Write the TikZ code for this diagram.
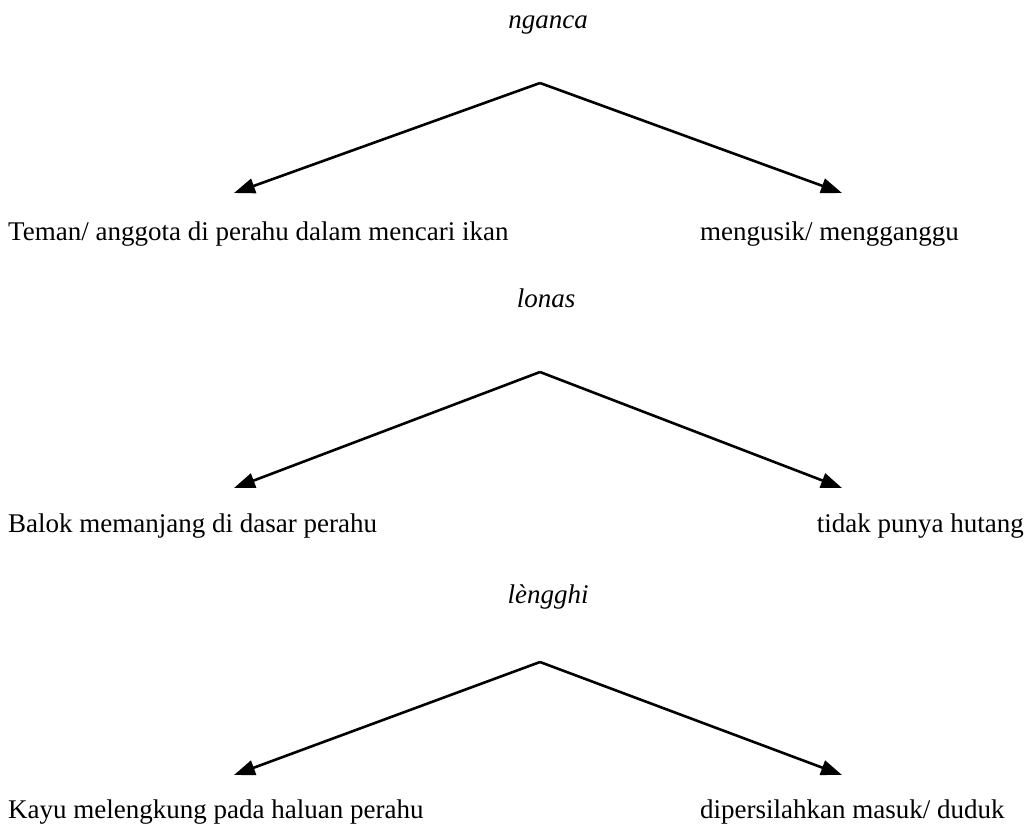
\documentclass[tikz,border=0pt]{standalone}
\usepackage{fontspec}
\setmainfont{Liberation Serif}
\usetikzlibrary{arrows.meta}
\begin{document}
\begin{tikzpicture}[x=1pt,y=-1pt,
  txt/.style={inner sep=0pt,font=\fontsize{27}{32}\selectfont},
  lbl/.style={inner sep=0pt,anchor=base,font=\fontsize{27}{32}\selectfont\itshape},
  conn/.style={line width=2.6pt,-{Triangle[length=21pt,width=15pt]}}]
\useasboundingbox (0,0) rectangle (1029,831);
% row 1
\node[lbl] (l1) at (548,28) {nganca};
\coordinate (a1) at (540,83);
\coordinate (t1l) at (234,193);
\coordinate (t1r) at (842,193);
\draw[conn] (a1) -- (t1l);
\draw[conn] (a1) -- (t1r);
\node[txt,anchor=base west] (m1l) at (8,240) {Teman/ anggota di perahu dalam mencari ikan};
\node[txt,anchor=base west] (m1r) at (700,240) {mengusik/ mengganggu};
% row 2
\node[lbl] (l2) at (546,307) {lonas};
\coordinate (a2) at (540,372);
\coordinate (t2l) at (234,488);
\coordinate (t2r) at (842,488);
\draw[conn] (a2) -- (t2l);
\draw[conn] (a2) -- (t2r);
\node[txt,anchor=base west] (m2l) at (8,532) {Balok memanjang di dasar perahu};
\node[txt,anchor=base east] (m2r) at (1024,532) {tidak punya hutang};
% row 3
\node[lbl] (l3) at (548,603) {lèngghi};
\coordinate (a3) at (540,662);
\coordinate (t3l) at (234,775);
\coordinate (t3r) at (842,775);
\draw[conn] (a3) -- (t3l);
\draw[conn] (a3) -- (t3r);
\node[txt,anchor=base west] (m3l) at (8,818) {Kayu melengkung pada haluan perahu};
\node[txt,anchor=base west] (m3r) at (700,818) {dipersilahkan masuk/ duduk};
\end{tikzpicture}
\end{document}
